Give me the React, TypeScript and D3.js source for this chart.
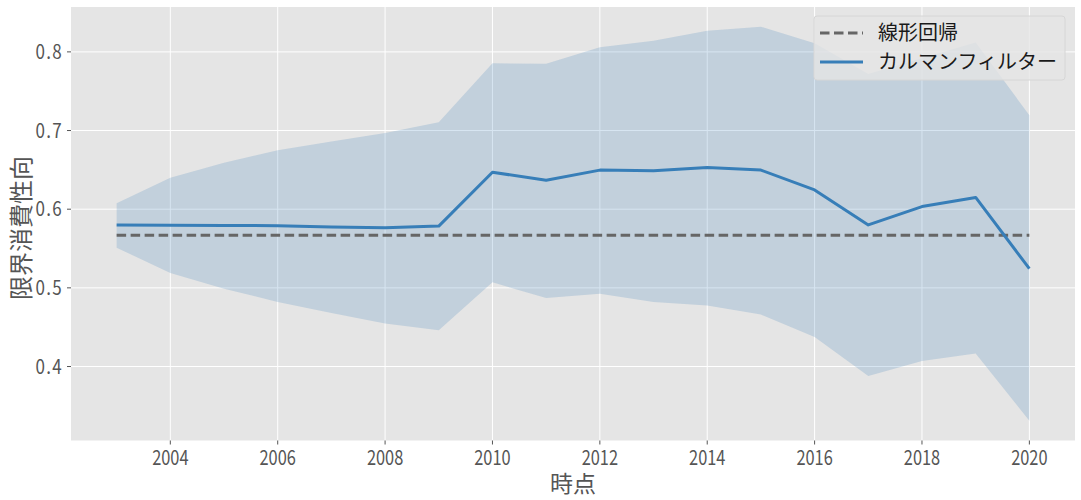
import React from "react";
import * as d3 from "d3";

const years = [2003, 2004, 2005, 2006, 2007, 2008, 2009, 2010, 2011, 2012, 2013, 2014, 2015, 2016, 2017, 2018, 2019, 2020];
const kalman = [0.580, 0.5795, 0.5793, 0.579, 0.5775, 0.5763, 0.5785, 0.647, 0.6367, 0.6497, 0.649, 0.6530, 0.6497, 0.6245, 0.580, 0.6033, 0.615, 0.5244];
const upper = [0.6076, 0.640, 0.659, 0.675, 0.686, 0.697, 0.7105, 0.7856, 0.7848, 0.806, 0.8143, 0.827, 0.832, 0.811, 0.772, 0.792, 0.812, 0.7194];
const lower = [0.551, 0.519, 0.499, 0.482, 0.468, 0.4548, 0.446, 0.507, 0.487, 0.4924, 0.482, 0.4776, 0.466, 0.4375, 0.388, 0.407, 0.4164, 0.331];
const regression = 0.567;
const xTicks = [2004, 2006, 2008, 2010, 2012, 2014, 2016, 2018, 2020];
const yTicks = [0.4, 0.5, 0.6, 0.7, 0.8];
const legendLabels = ["線形回帰", "カルマンフィルター"];

const W = 1081, H = 500;
const left = 71, right = 1075, top = 7, bottom = 440.5;
const FONT = "'Noto Sans CJK JP', 'Noto Sans', sans-serif";
const BLUE = "#377eb8";

export default function App() {
  const xMin = d3.min(years)!, xMax = d3.max(years)!;
  const xPad = (xMax - xMin) * 0.05;
  const x = d3.scaleLinear().domain([xMin - xPad, xMax + xPad]).range([left, right]);
  const yLo = d3.min(lower)!, yHi = d3.max(upper)!;
  const yPad = (yHi - yLo) * 0.05;
  const y = d3.scaleLinear().domain([yLo - yPad, yHi + yPad]).range([bottom, top]);

  const data = years.map((yr, i) => ({ yr, k: kalman[i], u: upper[i], l: lower[i] }));
  const area = d3.area<any>().x(d => x(d.yr)).y0(d => y(d.l)).y1(d => y(d.u))(data) || "";
  const line = d3.line<any>().x(d => x(d.yr)).y(d => y(d.k))(data) || "";

  return (
    <svg width={W} height={H} style={{ display: "block", position: "absolute", left: 0, top: 0 }} fontFamily={FONT}>
      <rect x={0} y={0} width={W} height={H} fill="#fff" />
      <rect x={left} y={top} width={right - left} height={bottom - top} fill="#e5e5e5" />
      {xTicks.map(t => (
        <line key={"gx" + t} x1={x(t)} x2={x(t)} y1={top} y2={bottom} stroke="#fff" strokeWidth={1} />
      ))}
      {yTicks.map(t => (
        <line key={"gy" + t} x1={left} x2={right} y1={y(t)} y2={y(t)} stroke="#fff" strokeWidth={1} />
      ))}
      <path d={area} fill={BLUE} fillOpacity={0.2} />
      <line x1={x(xMin)} x2={x(xMax)} y1={y(regression)} y2={y(regression)} stroke="#666" strokeWidth={3} strokeDasharray="9.5,4.5" />
      <path d={line} fill="none" stroke={BLUE} strokeWidth={3} strokeLinejoin="round" />
      {xTicks.map(t => (
        <g key={"tx" + t}>
          <line x1={x(t)} x2={x(t)} y1={bottom} y2={bottom + 4} stroke="#555" />
          <g transform={`translate(${x(t)},${bottom + 24}) scale(0.78,1)`}>
            <text x={0} y={0} textAnchor="middle" fontSize={21} fill="#555">{t}</text>
          </g>
        </g>
      ))}
      {yTicks.map(t => (
        <g key={"ty" + t}>
          <line x1={left - 4} x2={left} y1={y(t)} y2={y(t)} stroke="#555" />
          <g transform={`translate(${left - 8},${y(t)}) scale(0.85,1)`}>
            <text x={0} y={0} dy="0.36em" textAnchor="end" fontSize={20} letterSpacing={1.5} fill="#555">{t.toFixed(1)}</text>
          </g>
        </g>
      ))}
      <text x={(left + right) / 2} y={492} textAnchor="middle" fontSize={23} fill="#555">時点</text>
      <text transform={`translate(30,${228}) rotate(-90)`} textAnchor="middle" fontSize={24} fill="#555">限界消費性向</text>
      <g>
        <rect x={814} y={16} width={251} height={64} rx={3} fill="#e5e5e5" fillOpacity={0.8} stroke="#d6d6d6" />
        <line x1={820} x2={863} y1={33} y2={33} stroke="#666" strokeWidth={3} strokeDasharray="9.5,4.5" />
        <text x={878} y={33} dy="0.35em" fontSize={20} fill="#1a1a1a">{legendLabels[0]}</text>
        <line x1={820} x2={863} y1={62} y2={62} stroke={BLUE} strokeWidth={3} />
        <text x={878} y={62} dy="0.35em" fontSize={20} fill="#1a1a1a">{legendLabels[1]}</text>
      </g>
    </svg>
  );
}
